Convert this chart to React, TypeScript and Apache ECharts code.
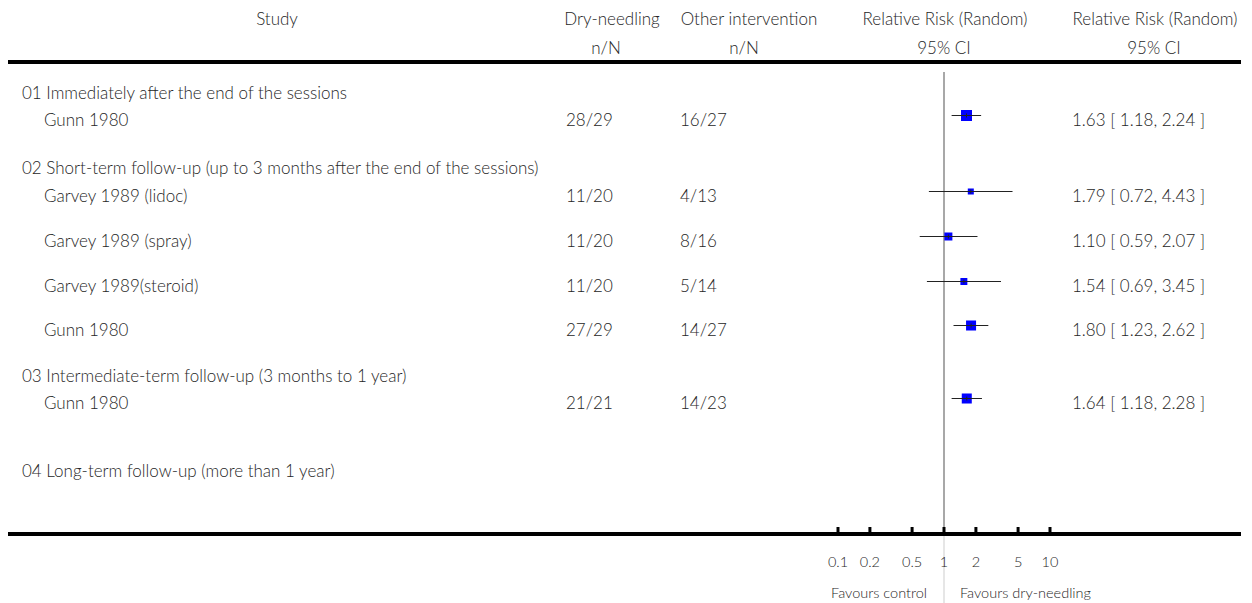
import React, { useEffect, useRef } from "react";
import * as echarts from "echarts";

// ---------- data ----------
const groupLabels = [
  "01 Immediately after the end of the sessions",
  "02 Short-term follow-up (up to 3 months after the end of the sessions)",
  "03 Intermediate-term follow-up (3 months to 1 year)",
  "04 Long-term follow-up (more than 1 year)",
];
const studyNames = [
  "Gunn 1980",
  "Garvey 1989 (lidoc)",
  "Garvey 1989 (spray)",
  "Garvey 1989(steroid)",
  "Gunn 1980",
  "Gunn 1980",
];
const dryNeedling = ["28/29", "11/20", "11/20", "11/20", "27/29", "21/21"];
const otherIntervention = ["16/27", "4/13", "8/16", "5/14", "14/27", "14/23"];
const rr = [1.63, 1.79, 1.1, 1.54, 1.8, 1.64];
const ciLow = [1.18, 0.72, 0.59, 0.69, 1.23, 1.18];
const ciHigh = [2.24, 4.43, 2.07, 3.45, 2.62, 2.28];
const weights = [100, 30, 53, 40, 83, 83];
const tickValues = [0.1, 0.2, 0.5, 1, 2, 5, 10];
const tickLabels = ["0.1", "0.2", "0.5", "1", "2", "5", "10"];
const headerTop = ["Study", "Dry-needling", "Other intervention", "Relative Risk (Random)", "Relative Risk (Random)"];
const headerSub = ["", "n/N", "n/N", "95% CI", "95% CI"];
const favourLabels = ["Favours control", "Favours dry-needling"];

// ---------- layout ----------
const W = 1252;
const H = 603;
const AXIS_Y = 534;
const TOP_LINE_Y = 62;
// vertical placement of table rows: group header / study rows in order
const groupRowY = [92, 167, 375, 470];
const studyRowY = [119, 195, 240, 285, 329, 402];
const FONT = "Lato, 'Noto Sans', sans-serif";
const TXT = "#262626";
const FS = 17;
const FW = 300;

export default function App() {
  const ref = useRef<HTMLDivElement>(null);
  useEffect(() => {
    document.body.style.margin = "0";
    if (!ref.current) return;
    const chart = echarts.init(ref.current, null, { renderer: "svg" });

    const forestData = rr.map((v, i) => [v, ciLow[i], ciHigh[i], studyRowY[i], weights[i]]);
    const tickData = tickValues.map((v, i) => [v, AXIS_Y, i]);

    const texts: any[] = [];
    const txt = (s: string, x: number, y: number, align: string, size = FS) =>
      texts.push({
        type: "text",
        x,
        y,
        silent: true,
        style: { text: s, fill: TXT, font: `${FW} ${size}px ${FONT}`, textAlign: align, textVerticalAlign: "middle" },
      });

    const topX = [277, 612, 749, 945, 1155];
    const subX = [277, 606, 744, 944, 1154];
    headerTop.forEach((s, i) => txt(s, topX[i], 18, "center"));
    headerSub.forEach((s, i) => s && txt(s, subX[i], 47, "center"));
    groupLabels.forEach((s, g) => txt(s, 22, groupRowY[g], "left"));
    studyNames.forEach((s, i) => {
      const y = studyRowY[i];
      txt(s, 44, y, "left");
      txt(dryNeedling[i], 566, y, "left");
      txt(otherIntervention[i], 680, y, "left");
      txt(`${rr[i].toFixed(2)} [ ${ciLow[i].toFixed(2)}, ${ciHigh[i].toFixed(2)} ]`, 1072, y, "left");
    });

    const option: any = {
      animation: false,
      grid: [{ left: 838, width: 212, top: 0, height: AXIS_Y }],
      xAxis: [{ type: "log", logBase: 10, min: 0.1, max: 10, show: false }],
      yAxis: [{ type: "value", inverse: true, min: 0, max: AXIS_Y, show: false }],
      series: [
        {
          // reference line at RR = 1
          type: "custom",
          clip: false,
          data: [[1]],
          z: 1,
          renderItem: (_p: any, api: any) => {
            const a = api.coord([api.value(0), 72]);
            const b = api.coord([api.value(0), AXIS_Y]);
            const c = api.coord([api.value(0), H]);
            return {
              type: "group",
              children: [
                { type: "line", shape: { x1: a[0], y1: a[1], x2: b[0], y2: b[1] }, style: { stroke: "#a8a8a8", lineWidth: 2 } },
                { type: "line", shape: { x1: b[0], y1: b[1] + 2, x2: c[0], y2: c[1] }, style: { stroke: "#dedede", lineWidth: 1.5 } },
              ],
            };
          },
        },
        {
          type: "custom",
          clip: false,
          data: forestData,
          z: 3,
          renderItem: (_p: any, api: any) => {
            const est = api.value(0);
            const y = api.value(3);
            const w = api.value(4);
            const pLo = api.coord([api.value(1), y]);
            const pHi = api.coord([api.value(2), y]);
            const pE = api.coord([est, y]);
            const yy = Math.round(pE[1] - 4) + 0.5;
            const s = 11 * Math.sqrt(w / 100);
            return {
              type: "group",
              children: [
                { type: "rect", shape: { x: pE[0] - s / 2, y: yy - s / 2, width: s, height: s }, style: { fill: "#0000ff" } },
                { type: "line", shape: { x1: pLo[0], y1: yy, x2: pHi[0], y2: yy }, style: { stroke: "#222", lineWidth: 1 } },
                { type: "line", shape: { x1: pE[0], y1: yy - 2, x2: pE[0], y2: yy + 2 }, style: { stroke: "#222", lineWidth: 1 } },
              ],
            };
          },
        },
        {
          // axis ticks and labels
          type: "custom",
          clip: false,
          data: tickData,
          z: 4,
          renderItem: (_p: any, api: any) => {
            const p = api.coord([api.value(0), api.value(1)]);
            const i = api.value(2);
            return {
              type: "group",
              children: [
                { type: "rect", shape: { x: p[0] - 1.5, y: p[1] - 7, width: 3, height: 7 }, style: { fill: "#000" } },
                {
                  type: "text",
                  style: {
                    text: tickLabels[i],
                    x: p[0],
                    y: p[1] + 27,
                    fill: TXT,
                    font: `${FW} 14.5px ${FONT}`,
                    textAlign: "center",
                    textVerticalAlign: "middle",
                  },
                },
              ],
            };
          },
        },
      ],
      graphic: [
        { type: "line", shape: { x1: 8, y1: TOP_LINE_Y, x2: 1241, y2: TOP_LINE_Y }, style: { stroke: "#000", lineWidth: 4 } },
        { type: "line", shape: { x1: 8, y1: AXIS_Y, x2: 1241, y2: AXIS_Y }, style: { stroke: "#000", lineWidth: 4 } },
        ...texts,
        {
          type: "text",
          x: 927,
          y: 592,
          style: { text: favourLabels[0], fill: TXT, font: `${FW} 14.5px ${FONT}`, textAlign: "right", textVerticalAlign: "middle" },
        },
        {
          type: "text",
          x: 960,
          y: 592,
          style: { text: favourLabels[1], fill: TXT, font: `${FW} 14.5px ${FONT}`, textAlign: "left", textVerticalAlign: "middle" },
        },
      ],
    };
    chart.setOption(option);
    return () => chart.dispose();
  }, []);
  return <div ref={ref} style={{ width: W, height: H }} />;
}
